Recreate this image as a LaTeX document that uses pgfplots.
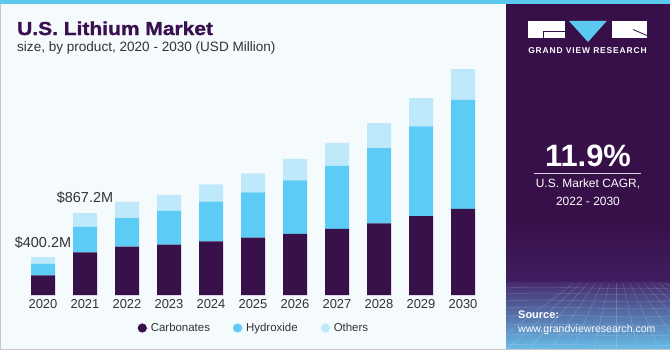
\documentclass[border=0pt]{standalone}
\usepackage{fontspec}
\setmainfont{Liberation Sans}
\usepackage{pgfplots}
\usepackage{pgfplotstable}
\pgfplotsset{compat=1.18}
\newfontfamily\titlefont[FakeStretch=1.12, BoldFeatures={FakeBold=1.3}]{Liberation Sans}
\newfontfamily\logofont[LetterSpace=10]{Liberation Sans}
\definecolor{carb}{HTML}{38104A}
\definecolor{hyd}{HTML}{5CCBF5}
\definecolor{oth}{HTML}{BDE9FA}
\definecolor{bg}{HTML}{F5FAFD}
\definecolor{panel}{HTML}{37104A}
\definecolor{stripe}{HTML}{5BC8EF}
\definecolor{txt}{HTML}{333333}
\definecolor{titlec}{HTML}{3A1050}

\pgfplotstableread{
x carb hyd oth
0 209 120 71.2
1 452 271 144.2
2 512 304 170
3 533 360 167
4 569 420 184
5 607 482 201
6 647 569 226
7 700 668 244
8 760 798 265
9 837 951 300
10 912 1155 327
}\lithium

\begin{document}
\begin{tikzpicture}
\begin{scope}[x=1bp,y=1bp]
\fill[bg] (0,0) rectangle (670,350);
\fill[stripe] (0,346) rectangle (670,350);
\fill[panel] (506,0) rectangle (670,346);
\shade[top color=panel, bottom color={rgb,255:red,64;green,30;blue,96}] (506,67) rectangle (670,130);
\shade[top color={rgb,255:red,70;green,45;blue,110}, middle color={rgb,255:red,80;green,100;blue,165}, bottom color={rgb,255:red,105;green,190;blue,235}] (506,0) rectangle (670,67);
\begin{scope}[white, opacity=0.18, line width=0.5bp]
\foreach \yy in {62,56,49,42,34,25,15,5} {\draw (506,\yy) .. controls (560,\yy+3) and (620,\yy-3) .. (670,\yy);}
\foreach \xx in {-40,-20,0,20,40,60,80,100,120,140,160,180,200,220} {\draw (588+\xx*0.35,67) -- (588+\xx*1.1-60,0);}
\end{scope}
\fill[gray!45] (0,0) rectangle (1,346);
\fill[gray!45] (0,0) rectangle (670,1.5);
% title
\node[anchor=base west, inner sep=0, text=titlec, font=\titlefont\bfseries\fontsize{18.8}{20}\selectfont] at (17,315) {U.S. Lithium Market};
\node[anchor=base west, inner sep=0, text=txt, font=\fontsize{13.6}{15}\selectfont] at (17,298.3) {size, by product, 2020 - 2030 (USD Million)};
% logo
\fill[white] (527.7,311.7) rectangle (565,329);
\draw[panel, line width=0.8bp] (565.5,319) -- (543.3,319) -- (543.3,311.2);
\fill[stripe] (569,329) -- (606.7,329) -- (588,308) -- cycle;
\fill[white] (611.7,311.7) rectangle (646.7,329);
\draw[panel, line width=0.8bp] (633,320.5) -- (647,314.5);
\node[inner sep=0, text=white, font=\logofont\bfseries\fontsize{8.5}{9}\selectfont] at (587.5,299.3) {GRAND VIEW RESEARCH};
% CAGR
\node[anchor=base, inner sep=0, text=white, font=\bfseries\fontsize{31}{32}\selectfont] at (588,184) {11.9\%};
\draw[white!80!panel, line width=0.9bp] (534,176.7) -- (641,176.7);
\node[inner sep=0, text=white, font=\fontsize{12}{13}\selectfont] at (588,166) {U.S. Market CAGR,};
\node[inner sep=0, text=white, font=\fontsize{12}{13}\selectfont] at (588,149) {2022 - 2030};
% source
\node[anchor=west, inner sep=0, text=white, font=\bfseries\fontsize{11}{12}\selectfont] at (518,35) {Source:};
\node[anchor=west, inner sep=0, text=white, font=\fontsize{10.6}{12}\selectfont] at (518,20) {www.grandviewresearch.com};
\end{scope}

\begin{axis}[
  at={(22bp,55bp)}, anchor=south west, scale only axis,
  width=462bp, height=250bp,
  xmin=-0.5, xmax=10.5, ymin=0, ymax=2650,
  ybar stacked, bar width=24bp,
  axis y line=none,
  axis x line*=bottom,
  x axis line style={draw=none},
  xtick={0,...,10},
  xticklabels={2020,2021,2022,2023,2024,2025,2026,2027,2028,2029,2030},
  major tick length=0pt,
  xticklabel style={font=\fontsize{13}{13}\selectfont, text=txt, yshift=-1bp},
  clip=false,
  legend style={at={(axis description cs:0.502,-0.132)}, anchor=center,
    legend columns=-1, draw=none, fill=none,
    font=\fontsize{11.5}{12}\selectfont, text=txt,
    /tikz/every even column/.append style={column sep=21bp}},
  legend image code/.code={\fill[#1,draw=none] (4.5bp,0bp) circle (4.6bp); \path (0bp,0bp) -- (11bp,0bp);},
]
\addplot[fill=carb, draw=none] table[x=x,y=carb]{\lithium};
\addplot[fill=hyd, draw=none] table[x=x,y=hyd]{\lithium};
\addplot[fill=oth, draw=none] table[x=x,y=oth]{\lithium};
\legend{Carbonates, Hydroxide, Others}
\node[text=txt, font=\fontsize{14.5}{15}\selectfont, yshift=15bp] at (axis cs:0,400.2) {\$400.2M};
\node[text=txt, font=\fontsize{14.5}{15}\selectfont, yshift=16bp] at (axis cs:1,867.2) {\$867.2M};
\end{axis}
\pgfresetboundingbox
\useasboundingbox (0,0) rectangle (670bp,350bp);
\end{tikzpicture}
\end{document}
